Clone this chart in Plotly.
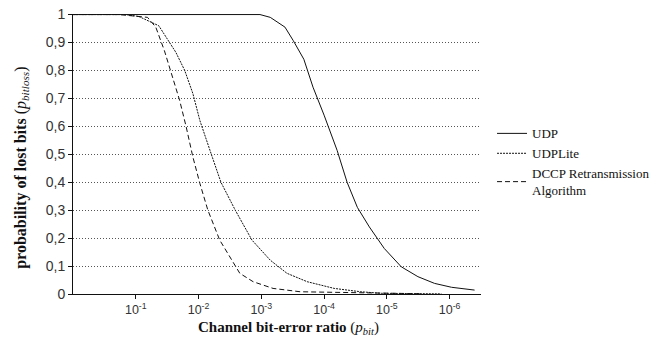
import plotly.graph_objects as go

# Channel bit-error ratio (x, log scale, reversed) and probability of lost bits (y)
udp_x = [1.0, 1.05e-3, 7.2e-4, 4.2e-4, 3.1e-4, 2.1e-4, 1.5e-4, 1.0e-4, 6.2e-5, 4.3e-5,
         2.95e-5, 1.9e-5, 1.1e-5, 5.9e-6, 3.2e-6, 1.74e-6, 9.3e-7, 4.0e-7]
udp_y = [1.0, 1.0, 0.99, 0.955, 0.907, 0.84, 0.74, 0.64, 0.514, 0.40,
         0.31, 0.24, 0.163, 0.0975, 0.062, 0.038, 0.024, 0.014]

lite_x = [1.0, 1.45e-1, 8.9e-2, 4.3e-2, 2.3e-2, 1.66e-2, 1.23e-2, 9.5e-3, 6.3e-3, 4.4e-3,
          2.6e-3, 1.41e-3, 7.2e-4, 3.9e-4, 1.86e-4, 6.9e-5, 2.6e-5, 1.23e-5, 1.35e-6]
lite_y = [1.0, 1.0, 0.993, 0.96, 0.865, 0.80, 0.717, 0.62, 0.502, 0.40,
          0.30, 0.193, 0.121, 0.074, 0.044, 0.020, 0.008, 0.0025, 0.0005]

dccp_x = [1.0, 1.86e-1, 6.5e-2, 4.8e-2, 3.5e-2, 2.6e-2, 2.0e-2, 1.58e-2, 1.23e-2, 9.5e-3,
          7.1e-3, 4.6e-3, 2.8e-3, 2.2e-3, 1.35e-3, 6.5e-4, 2.4e-4, 3.0e-6]
dccp_y = [1.0, 1.0, 0.99, 0.955, 0.871, 0.776, 0.693, 0.60, 0.49, 0.395,
          0.30, 0.193, 0.11, 0.074, 0.044, 0.020, 0.008, 0.001]

x_tickvals = [1e-1, 1e-2, 1e-3, 1e-4, 1e-5, 1e-6]
x_ticktext = ["10<sup>-1</sup>", "10<sup>-2</sup>", "10<sup>-3</sup>",
              "10<sup>-4</sup>", "10<sup>-5</sup>", "10<sup>-6</sup>"]
y_tickvals = [0, 0.1, 0.2, 0.3, 0.4, 0.5, 0.6, 0.7, 0.8, 0.9, 1]
y_ticktext = ["0", "0,1", "0,2", "0,3", "0,4", "0,5", "0,6", "0,7", "0,8", "0,9", "1"]

x_title = "<b>Channel bit-error ratio</b> (<i>p<sub>bit</sub></i>)"
y_title = "<b>probability of lost bits</b> (<i>p<sub>bitloss</sub></i>)"

fig = go.Figure()
fig.add_trace(go.Scatter(x=udp_x, y=udp_y, mode="lines", name="UDP",
                         line=dict(color="#111", width=1)))
fig.add_trace(go.Scatter(x=lite_x, y=lite_y, mode="lines", name="UDPLite",
                         line=dict(color="#111", width=1, dash="2px,1px")))
fig.add_trace(go.Scatter(x=dccp_x, y=dccp_y, mode="lines",
                         name="DCCP Retransmission<br>Algorithm",
                         line=dict(color="#111", width=1, dash="5px,3px")))

fig.update_layout(
    width=672, height=343,
    margin=dict(l=73, r=191, t=14, b=49),
    paper_bgcolor="white", plot_bgcolor="white",
    font=dict(family="Liberation Sans, Arial", size=12, color="#333"),
    showlegend=True,
    legend=dict(x=1.027, y=0.627, xanchor="left", yanchor="top",
                font=dict(family="Liberation Serif, Times New Roman", size=13, color="#111"),
                itemwidth=30, tracegroupgap=0, bgcolor="rgba(0,0,0,0)"),
    annotations=[
        dict(text=x_title, xref="paper", yref="paper", x=0.529, y=-0.12,
             xanchor="center", yanchor="middle", showarrow=False,
             font=dict(family="Liberation Serif, Times New Roman", size=15, color="#111")),
        dict(text=y_title, xref="paper", yref="paper", x=-0.128, y=0.45,
             xanchor="center", yanchor="middle", textangle=-90, showarrow=False,
             font=dict(family="Liberation Serif, Times New Roman", size=16, color="#111")),
    ],
)
fig.update_xaxes(
    type="log", range=[0.0, -6.5], automargin=False,
    tickvals=x_tickvals, ticktext=x_ticktext,
    ticks="outside", ticklen=4, tickcolor="#111",
    showline=True, linecolor="#111", linewidth=1,
    showgrid=False, zeroline=False,
    tickfont=dict(family="Liberation Sans, Arial", size=12.5, color="#333"),
)
fig.update_yaxes(
    range=[0, 1.002], automargin=False,
    tickvals=y_tickvals, ticktext=y_ticktext,
    ticks="outside", ticklen=4, tickcolor="#111",
    showline=True, linecolor="#111", linewidth=1,
    showgrid=True, gridcolor="#555", gridwidth=1, griddash="1px,2px",
    zeroline=False,
    tickfont=dict(family="Liberation Sans, Arial", size=14, color="#333"),
)

# remove the default 8px page margin so the figure fills the window exactly
fig.write_html("out.html", config={"displayModeBar": False},
               post_script="document.body.style.margin='0';")
